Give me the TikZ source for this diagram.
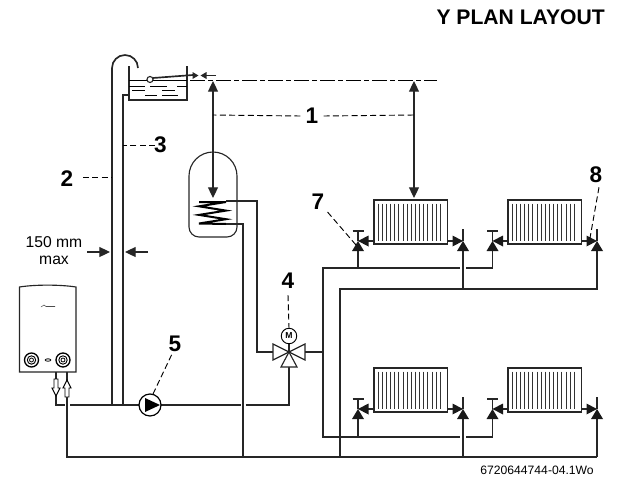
\documentclass[tikz,border=0pt]{standalone}
\usepackage{fontspec}
\setmainfont{Liberation Sans}
\usetikzlibrary{arrows.meta}
\tikzset{
pipe/.style={line width=1.25bp,draw=black!85},
fine/.style={line width=.85bp,draw=black!85},
leader/.style={line width=.7bp,dash pattern=on 4.5bp off 2.5bp},
solid tip/.style={-{Triangle[length=8bp,width=7.5bp]}},
small tip/.style={-{Triangle[length=4.5bp,width=5bp]}},
both tips/.style={{Triangle[length=8bp,width=7.5bp]}-{Triangle[length=8bp,width=7.5bp]}},
num/.style={font=\bfseries\fontsize{17}{17}\selectfont,inner sep=0pt},
txt/.style={font=\fontsize{11.8}{11.8}\selectfont,inner sep=0pt},
mark tri/.style={fill=black!90,draw=none},
}
\begin{document}
\begin{tikzpicture}[x=.75bp,y=-.75bp]
\useasboundingbox (0,0) rectangle (618,477);
% texts
\node[font=\bfseries\fontsize{15.9}{15.9}\selectfont,inner sep=0pt,anchor=base east] (title) at (605,24) {Y PLAN LAYOUT};
\node[font=\fontsize{9.15}{9.15}\selectfont,inner sep=0pt,anchor=base east] (code) at (594,474) {6720644744-04.1Wo};
\node[num] (n1) at (312,116) {1};
\node[num] (n2) at (67,179) {2};
\node[num] (n3) at (160.5,145) {3};
\node[num] (n4) at (288,281) {4};
\node[num] (n5) at (175,344) {5};
\node[num] (n7) at (318,202) {7};
\node[num] (n8) at (596,175) {8};
\node[txt] (width) at (54,242) {150 mm};
\node[txt] (maxw) at (54,260) {max};
% boiler
\draw[fine,fill=white] (19.5,372) -- (19.5,287) .. controls (35,284.5) and (60,284.5) .. (76,287) -- (76,372) -- cycle;
\draw[line width=.4bp,black!70] (41,307) -- (44,305) -- (46,306.5) -- (55,306.5);
\foreach \x in {31.5,63}{
\draw[line width=1bp] (\x,360) circle(7);
\draw[line width=.7bp] (\x,360) circle(4.2);
\draw[line width=.6bp] (\x,360) circle(2);
}
\draw[line width=.6bp] (48,360) ellipse(2.8 and 1.2);
% vent and cold feed
\draw[pipe] (112,405) -- (112,68) arc(180:360:13);
\draw[pipe] (123,405) -- (123,95) -- (129,95);
% tank
\draw[fine] (129,66) -- (129,100) -- (187,100) -- (187,66);
\draw[line width=.5bp] (129,80.5) -- (147,80.5) (153,80.5) -- (187,80.5);
\draw[line width=.5bp] (129,86) -- (145,86) (150,86) -- (167,86) (177,86) -- (187,86)
(132,90.5) -- (145,90.5) (162,90.5) -- (175,90.5) (145,95.5) -- (157,95.5) (162,95.5) -- (178,95.5);
\draw[pipe] (153,78) -- (193,75);
\draw[fine,fill=white] (150,79.5) circle(3);
\draw[fine,small tip] (188,75.5) -- (198.5,75.5);
\draw[fine,small tip] (216,75.5) -- (200.5,75.5);
% levels
\draw[line width=.7bp,dash pattern=on 11bp off 2.5bp on 3.5bp off 2.5bp] (190,80) -- (437,80);
\draw[fine,both tips] (213,81) -- (213,198);
\draw[fine,both tips] (414,81) -- (414,198);
\draw[leader] (n1.west) ++(-5,0) -- (213,115);
\draw[leader] (n1.east) ++(5,0) -- (414,115);
\draw[leader] (83,177.5) -- (112,177.5);
\draw[leader] (155,145) -- (123,145);
% width arrows
\draw[fine,solid tip] (87,252) -- (110,252);
\draw[fine,solid tip] (148,252) -- (125,252);
% cylinder
\draw[fine] (189,176) arc(180:360:24) -- (237,227) arc(0:90:10) -- (199,237) arc(90:180:10) -- cycle;
\draw[line width=1.5bp,black] (199,202) -- (226,202) -- (199,206.3) -- (226,210.6) -- (199,214.9) -- (226,219.2) -- (199,223.5) -- (226,224);
\draw[pipe] (226,201) -- (257,201) -- (257,352) -- (273,352);
\draw[pipe] (226,224) -- (243,224) -- (243,457);
% flow from boiler
\draw[pipe] (56,372) -- (56,405) -- (64.5,405);
\draw[pipe] (70,405) -- (139,405);
\draw[pipe] (161,405) -- (240.5,405);
\draw[pipe] (245.5,405) -- (289,405) -- (289,367);
\draw[pipe] (67,372) -- (67,457) -- (597,457);
\draw[line width=.7bp,fill=white] (54,379) -- (58,379) -- (58,388) -- (60,388) -- (56,396) -- (52,388) -- (54,388) -- cycle;
\draw[line width=.7bp,fill=white] (65,397) -- (69,397) -- (69,388) -- (71,388) -- (67,380) -- (63,388) -- (65,388) -- cycle;
% pump
\draw[line width=.9bp,fill=white] (150,405) circle(11);
\fill (145,398) -- (160,405) -- (145,412) -- cycle;
\draw[leader] (153,394) -- (172,354);
% three way valve
\coordinate (V) at (289,352);
\draw[fine,fill=white] (V) -- (273,344) -- (273,360) -- cycle;
\draw[fine,fill=white] (V) -- (305,344) -- (305,360) -- cycle;
\draw[fine,fill=white] (V) -- (281,367) -- (297,367) -- cycle;
\draw[fine] (V) -- (289,343);
\node[draw,circle,line width=.7bp,minimum size=15.5*.75bp,inner sep=0pt,font=\bfseries\fontsize{6.5}{6.5}\selectfont,fill=white] (M) at (289,336) {M};
\draw[leader] (n4.south) ++(0,6) -- (M.north);
% circuits
\draw[pipe] (305,352) -- (323,352);
\draw[pipe] (460,268) -- (323,268) -- (323,437) -- (460,437);
\draw[pipe] (466,268) -- (492.5,268) -- (492.5,250);
\draw[pipe] (466,437) -- (492.5,437) -- (492.5,418);
\draw[pipe] (358,268) -- (358,250);
\draw[pipe] (358,437) -- (358,418);
\draw[pipe] (340,457) -- (340,289) -- (597,289) -- (597,250);
\draw[pipe] (463,289) -- (463,250);
\draw[pipe] (463,457) -- (463,418);
\draw[pipe] (597,457) -- (597,418);
% radiators
\foreach \rx/\ry in {374/0,508/0,374/168,508/168}{
\begin{scope}[shift={(\rx,\ry)}]
\draw[fine] (0,200) rectangle (73.5,244);
\foreach \f in {4,8.15,...,70}\draw[line width=.55bp,black!80] (\f,203.5) -- (\f,240.5);
\draw[pipe] (-6,241) -- (0,241);
\draw[pipe] (73.5,241) -- (79,241);
\end{scope}
}
% valves
\foreach \vx/\ry in {358/0,492.5/0,358/168,492.5/168}{
\begin{scope}[shift={(\vx,\ry)}]
\draw[fine] (-5.5,231) -- (5.5,231) (0,231) -- (0,241);
\fill[mark tri] (0,241) -- (-6,251) -- (6,251) -- cycle;
\fill[mark tri] (0,241) -- (10.5,235.5) -- (10.5,246.5) -- cycle;
\end{scope}
}
\foreach \vx/\ry in {463/0,597/0,463/168,597/168}{
\begin{scope}[shift={(\vx,\ry)}]
\draw[fine] (0,229) -- (0,241);
\fill[mark tri] (0,241) -- (-6,251) -- (6,251) -- cycle;
\fill[mark tri] (0,241) -- (-10.5,235.5) -- (-10.5,246.5) -- cycle;
\end{scope}
}
% leaders to valves
\coordinate (v7) at (356,245);
\coordinate (v8) at (590,238);
\draw[leader] (n7.south east) ++(3,2) -- (v7);
\draw[leader] (n8.south) ++(3,4) -- (v8);
\end{tikzpicture}
\end{document}
